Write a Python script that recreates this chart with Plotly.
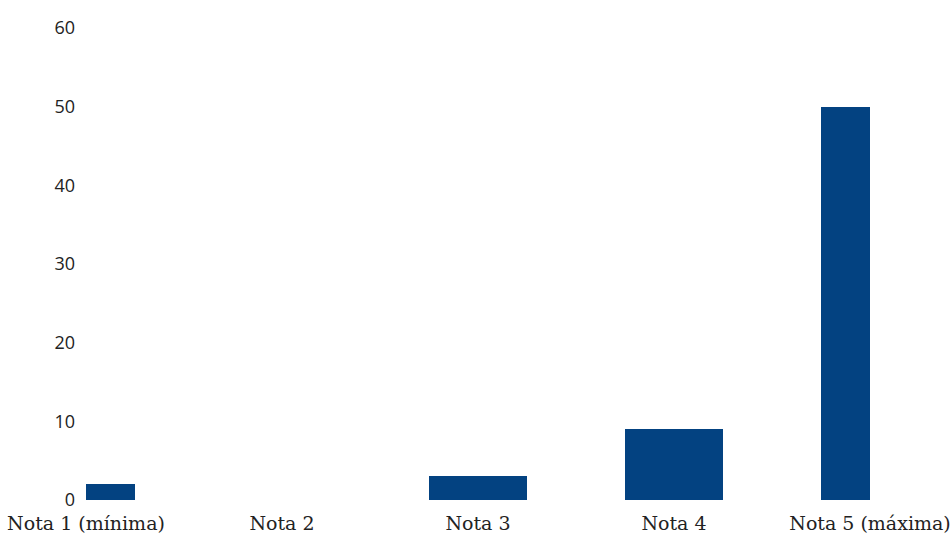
import plotly.graph_objects as go

categories = ["Nota 1 (mínima)", "Nota 2", "Nota 3", "Nota 4", "Nota 5 (máxima)"]
values = [2, 0, 3, 9, 50]
y_ticks = [0, 10, 20, 30, 40, 50, 60]

positions = list(range(len(categories)))

fig = go.Figure(
    go.Bar(
        x=positions,
        y=values,
        width=0.5,
        marker=dict(color="#034281", line=dict(width=0)),
        hoverinfo="skip",
    )
)

fig.update_layout(
    width=950,
    height=536,
    margin=dict(l=86, r=80, t=28, b=36, autoexpand=False),
    paper_bgcolor="white",
    plot_bgcolor="white",
    showlegend=False,
    bargap=0,
)

fig.update_xaxes(
    range=[0, len(categories) - 1],
    tickmode="array",
    tickvals=positions,
    ticktext=categories,
    showgrid=False,
    zeroline=False,
    showline=False,
    ticks="",
    automargin=False,
    ticklabeloverflow="allow",
    ticklabelstandoff=10,
    tickfont=dict(family="DejaVu Serif", size=19, color="#222222"),
)

fig.update_yaxes(
    range=[0, 60],
    tickmode="array",
    tickvals=y_ticks,
    showgrid=False,
    zeroline=False,
    showline=False,
    ticks="",
    automargin=False,
    ticklabelstandoff=10,
    tickfont=dict(family="Open Sans", size=18, color="#222222"),
)

fig.write_html("out.html")
